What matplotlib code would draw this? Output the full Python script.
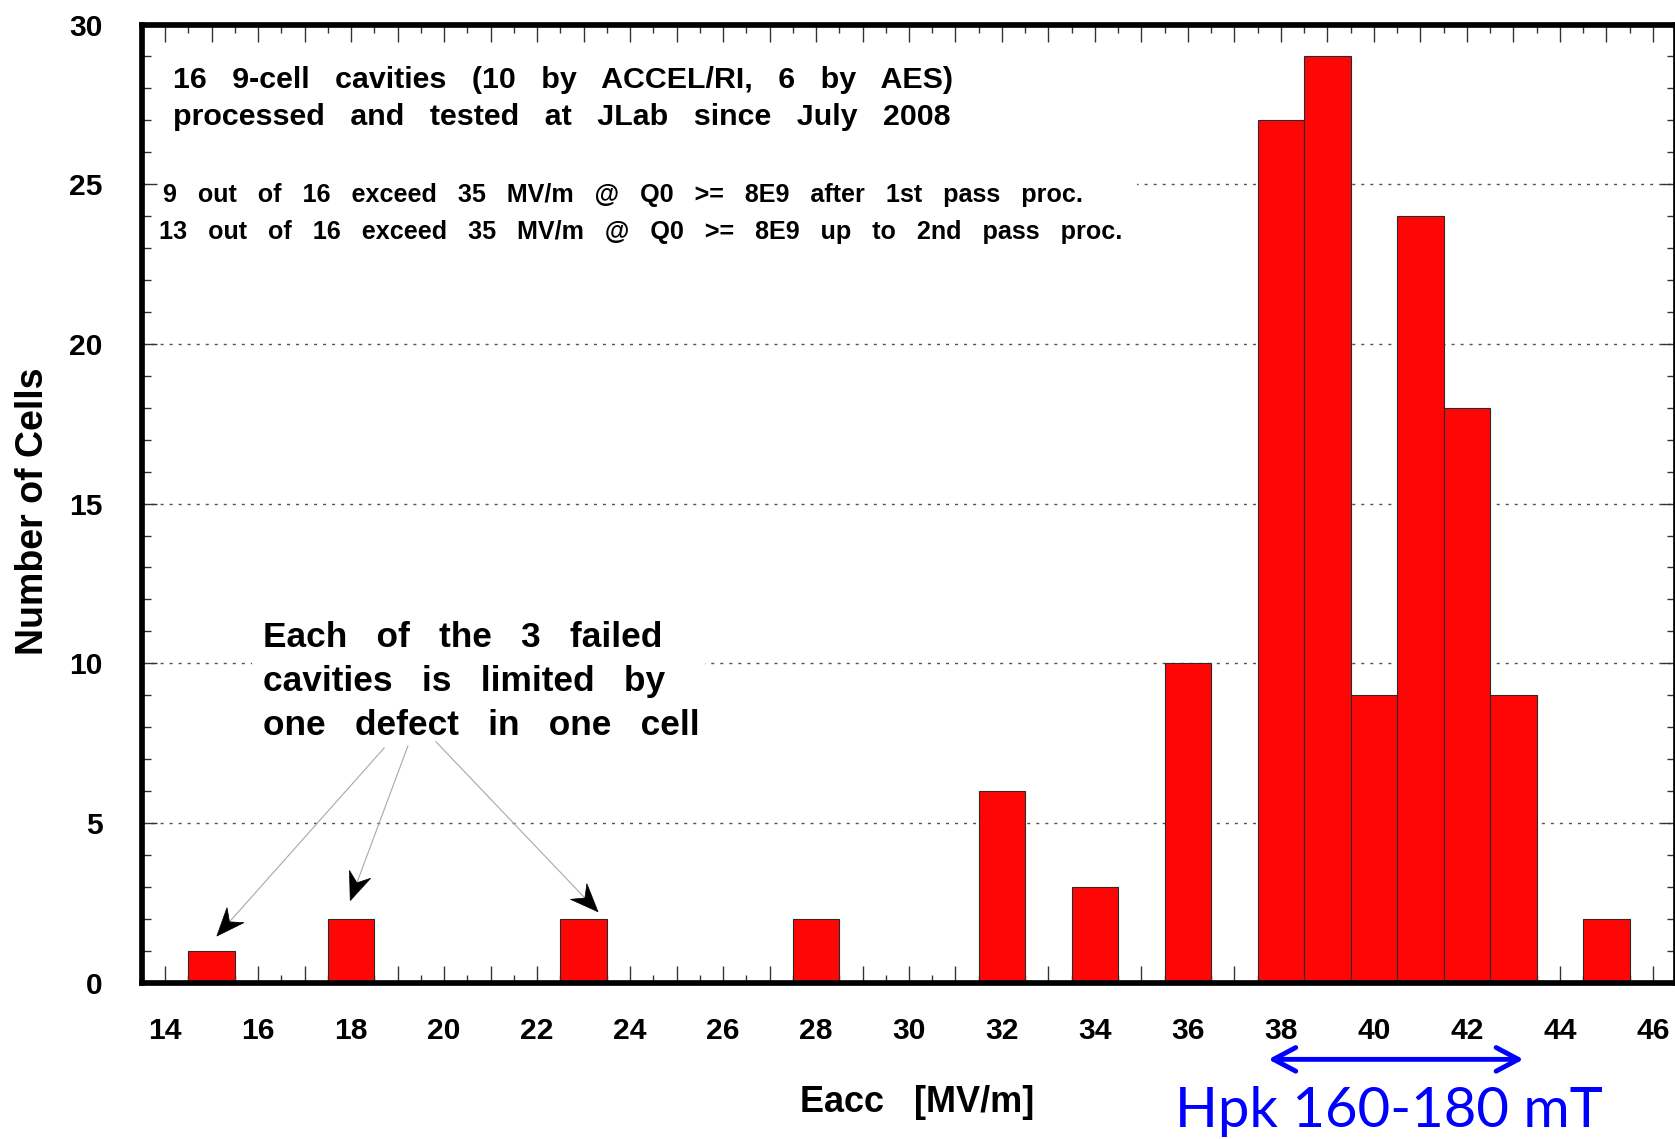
import numpy as np
import matplotlib
matplotlib.use("Agg")
import matplotlib.pyplot as plt
from matplotlib.patches import Polygon, Rectangle
from matplotlib.transforms import IdentityTransform

# cells per Eacc bin (bin centre in MV/m, 1 MV/m wide)
eacc = [15, 18, 23, 28, 32, 34, 36, 38, 39, 40, 41, 42, 43, 45]
n_cells = [1, 2, 2, 2, 6, 3, 10, 27, 29, 9, 24, 18, 9, 2]

x_labels = list(range(14, 47, 2))
y_labels = [0, 5, 10, 15, 20, 25, 30]

header = ["16   9-cell   cavities   (10   by   ACCEL/RI,   6   by   AES)",
          "processed   and   tested   at   JLab   since   July   2008"]
pass_lines = ["9   out   of   16   exceed   35   MV/m   @   Q0   >=   8E9   after   1st   pass   proc.",
              "13   out   of   16   exceed   35   MV/m   @   Q0   >=   8E9   up   to   2nd   pass   proc."]
failed_note = ["Each   of   the   3   failed",
               "cavities   is   limited   by",
               "one   defect   in   one   cell"]

# arrows from the note down to the failed cavities
arrow_from = [(18.71, 7.35), (19.22, 7.41), (19.82, 7.55)]
arrow_to = [(15.11, 1.46), (17.98, 2.57), (23.31, 2.22)]

# Hpk 160-180 mT range on the Eacc axis
hpk_lo, hpk_hi = 37.73, 43.22

plt.rcParams['font.family'] = ['Liberation Sans', 'DejaVu Sans']
plt.rcParams['font.weight'] = 'bold'

W, H = 1675, 1139
fig = plt.figure(figsize=(W / 100, H / 100), dpi=100)


def fx(x):
    return x / W


def fy(y):
    return 1 - y / H


ax = fig.add_axes([fx(142), fy(982.7), (1676 - 142) / W, (982.7 - 24.5) / H])
ax.set_xlim(13.5, 46.5)
ax.set_ylim(0, 30)

ax.bar(eacc, n_cells, width=1.0, color='#ff0606', edgecolor='#2a2a2a',
       linewidth=0.8, zorder=2)

for s in ax.spines.values():
    s.set_linewidth(4.1)

ax.set_xticks(np.arange(14, 47), labels=[str(v) if v in x_labels else '' for v in range(14, 47)])
ax.set_xticks(np.arange(13.5, 47, 0.5), minor=True)
ax.set_yticks(y_labels, labels=[str(v) for v in y_labels])
ax.set_yticks(np.arange(0, 31), minor=True)

ax.tick_params(which='both', direction='in', top=True, right=True, width=1.0,
               color='#333333', labelsize=21.6)
ax.tick_params(axis='x', which='major', length=11.9, pad=24.5)
ax.tick_params(axis='x', which='minor', length=5.6)
ax.tick_params(axis='y', which='major', length=11, pad=28.5)
ax.tick_params(axis='y', which='minor', length=6.3)

# dashed horizontal grid, kept behind the bars
for yv in y_labels[1:-1]:
    ax.axhline(yv, color='#555555', lw=1.0, ls=(0, (2.2, 4.3)), zorder=0.5)

# white panels behind the text blocks
for x0, y0, x1, y1 in [(146, 160, 1137, 255), (252, 600, 705, 740)]:
    ax.add_patch(Rectangle((fx(x0), fy(y1)), fx(x1) - fx(x0), fy(y0) - fy(y1),
                           transform=fig.transFigure, facecolor='white',
                           edgecolor='none', zorder=0.7))

fig.text(fx(172.7), fy(88.3), header[0], fontsize=21.9, va='baseline')
fig.text(fx(172.7), fy(125), header[1], fontsize=21.9, va='baseline')
fig.text(fx(163), fy(201.7), pass_lines[0], fontsize=18.05, va='baseline')
fig.text(fx(159), fy(239), pass_lines[1], fontsize=18.05, va='baseline')
for i, line in enumerate(failed_note):
    fig.text(fx(263), fy(647 + 44 * i), line, fontsize=25.4, va='baseline')


def defect_arrow(start, tip):
    p0 = ax.transData.transform(start)
    p1 = ax.transData.transform(tip)
    d = (p1 - p0) / np.hypot(*(p1 - p0))
    n = np.array([-d[1], d[0]])
    L, w, notch = 28, 11.3, 19
    head = [p1, p1 - L * d + w * n, p1 - notch * d, p1 - L * d - w * n]
    end = p1 - notch * d
    ax.plot([p0[0], end[0]], [p0[1], end[1]], color='#a8a8a8', lw=0.8,
            transform=IdentityTransform(), clip_on=False, zorder=3)
    ax.add_patch(Polygon(head, closed=True, facecolor='black', edgecolor='black',
                         lw=0.5, transform=IdentityTransform(), zorder=3))


for a, b in zip(arrow_from, arrow_to):
    defect_arrow(a, b)

ax.annotate('', xy=(hpk_hi, -2.40), xytext=(hpk_lo, -2.40),
            arrowprops=dict(arrowstyle='<->,head_length=1.6,head_width=0.85',
                            color='#0000ff', lw=3.5, shrinkA=0, shrinkB=0),
            annotation_clip=False)
fig.text(fx(1388.6), fy(1127), 'Hpk 160-180 mT', color='#0000ff', fontsize=40.5,
         family=['Lato', 'DejaVu Sans'], weight='normal', ha='center', va='baseline')

fig.text(fx(33), fy(511.5), 'Number of Cells', rotation=90, fontsize=27,
         ha='center', va='center')
fig.text(fx(917.5), fy(1112), 'Eacc   [MV/m]', fontsize=26, ha='center', va='baseline')

fig.savefig('out.png', dpi=100)
